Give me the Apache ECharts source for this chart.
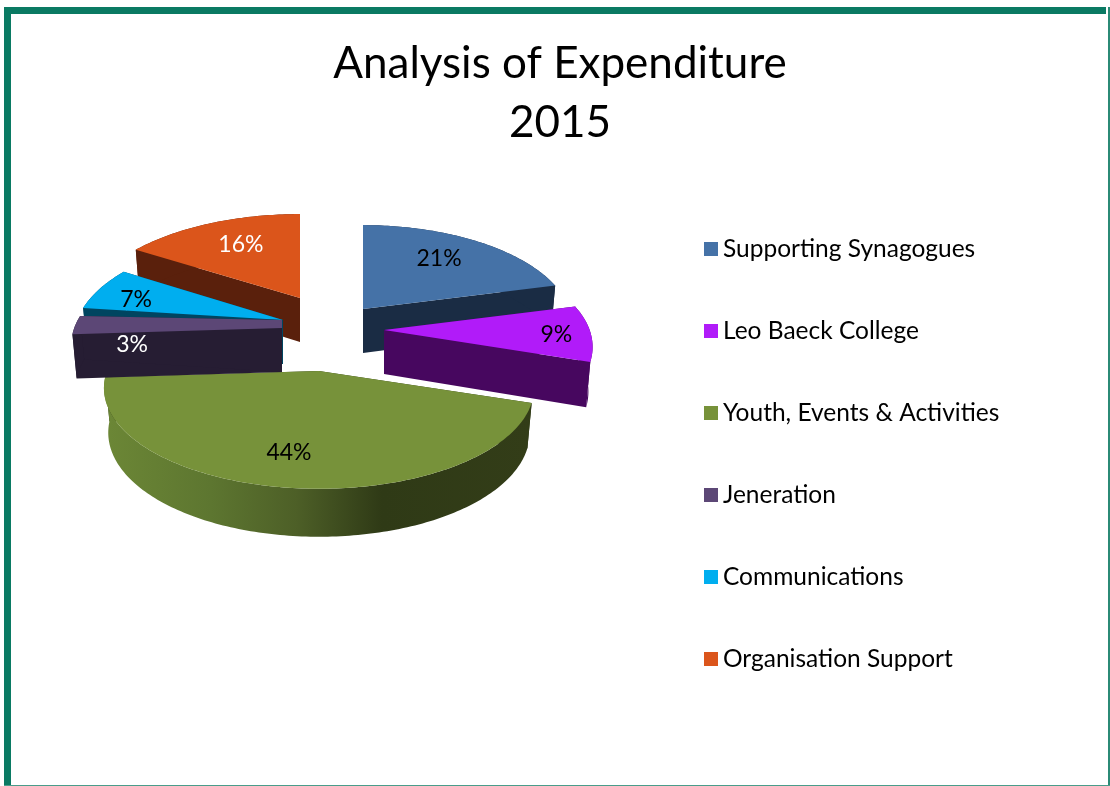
<!DOCTYPE html>
<html lang="en">
<head>
    <meta charset="UTF-8">
    <title>Analysis of Expenditure 2015</title>
    <script src="https://cdn.jsdelivr.net/npm/echarts@6/dist/echarts.min.js"></script>
    <style>
        html, body { margin: 0; padding: 0; background: #fff; }
    </style>
</head>
<body>
<div id="main" style="width: 1110px;height:786px;"></div>
<script type="text/javascript">
    // data, percent of expenditure
    var categories = ['Supporting Synagogues', 'Leo Baeck College', 'Youth, Events & Activities', 'Jeneration', 'Communications', 'Organisation Support'];
    var values = [21, 9, 44, 3, 7, 16];

    // colours per category
    var topColors = ['#4572a7', '#b11bf9', '#77923a', '#5c4776', '#00aeef', '#db551b'];
    var wallColors = ['#1a2c44', '#47075f', '#2c3914', '#261d33', '#004560', '#5a200c'];
    var labelColors = ['#000', '#000', '#000', '#fff', '#000', '#fff'];

    // explode offset of each slice from the pie centre, px
    var explodeX = [44, 65, 0, -37, -36, -19];
    var explodeY = [-62, -41, 0, -43, -51, -73];
    var sliceScaleX = [0.975, 0.97, 1, 0.98, 0.97, 1];
    // where the % label sits along the middle of the slice
    var labelRadius = [0.68, 0.81, 0.7, 0.71, 0.78, 0.68];
    var labelShiftX = [-5, 0, -9, 0, 2, 4];
    var labelShiftY = [-2, 2, 5, 19, 4, 0];
    // painter order, back to front
    var sliceZ = [2, 3, 5, 6, 4, 1];

    var cx = 319, cy = 371;      // pie centre
    var rx = 212, ry = 98;       // radii at the centre depth
    var persp = 0.168;           // front of the pie is bigger than the back
    var wallH = 44;              // thickness

    function project(deg, r, sx) {
        var a = deg * Math.PI / 180;
        var wx = r * Math.sin(a), wy = -r * Math.cos(a);
        var s = 1 / (1 - persp * wy);
        return {x: rx * sx * wx * s, y: ry * wy * s, wy: wy};
    }
    function lower(p) {
        return {x: p.x * 0.98, y: p.y + wallH + 4 * p.wy};
    }

    var starts = [];
    var total = 0;
    values.forEach(function (v) { starts.push(total); total += v; });

    function renderSlice(params, api) {
        var idx = params.seriesIndex;
        var from = api.value(0) / total * 360;
        var to = (api.value(0) + api.value(1)) / total * 360;
        var ox = cx + explodeX[idx], oy = cy + explodeY[idx];
        var arc = [];
        for (var d = from; d < to; d += 1) arc.push(project(d, 1, sliceScaleX[idx]));
        arc.push(project(to, 1, sliceScaleX[idx]));
        var centre = {x: 0, y: 0, wy: 0};
        // the thin Jeneration slice is cut off short of its point in the original
        var centreEnd = idx === 3 ? {x: 0, y: -8, wy: 0} : centre;

        function pts(list) {
            return list.map(function (p) { return [ox + p.x, oy + p.y]; });
        }
        var wallStyle = {fill: wallColors[idx]};
        var arcStyle = wallStyle;
        if (idx === 2) {
            arcStyle = {
                fill: new echarts.graphic.LinearGradient(0, 0, 1, 0, [
                    {offset: 0, color: '#6c8736'},
                    {offset: 0.25, color: '#5d7630'},
                    {offset: 0.45, color: '#4d5f27'},
                    {offset: 0.65, color: '#2f3a16'},
                    {offset: 1, color: '#333d18'}
                ])
            };
        }
        var first = arc[0], last = arc[arc.length - 1];
        var arcWall = arc.concat(arc.slice().reverse().map(lower));
        var children = [
            {type: 'polygon', shape: {points: pts([centre, first, lower(first), lower(centre)])}, style: wallStyle},
            {type: 'polygon', shape: {points: pts([centreEnd, last, lower(last), lower(centre)])}, style: wallStyle},
            {type: 'polygon', shape: {points: pts(arcWall)}, style: arcStyle},
            {type: 'polygon', shape: {points: pts([centre].concat(arc, [centreEnd]))}, style: {fill: topColors[idx]}}
        ];
        var mid = project((from + to) / 2, labelRadius[idx], 1);
        children.push({
            type: 'text',
            z2: 10,
            style: {
                x: ox + mid.x + labelShiftX[idx],
                y: oy + mid.y + labelShiftY[idx],
                text: api.value(1) + '%',
                fill: labelColors[idx],
                font: '23px Lato, sans-serif',
                align: 'center',
                verticalAlign: 'middle'
            }
        });
        return {type: 'group', children: children};
    }

    var myChart = echarts.init(document.getElementById('main'));
    var option = {
        animation: false,
        backgroundColor: '#fff',
        title: {
            text: 'Analysis of Expenditure\n2015',
            left: 555,
            top: 29,
            textAlign: 'center',
            textStyle: {
                fontFamily: 'Lato, sans-serif',
                fontWeight: 'normal',
                fontSize: 44,
                lineHeight: 59,
                color: '#000'
            }
        },
        legend: {
            data: categories,
            orient: 'vertical',
            icon: 'rect',
            left: 699,
            top: 230,
            itemWidth: 14,
            itemHeight: 14,
            itemGap: 54,
            textStyle: {
                fontFamily: 'Lato, sans-serif',
                fontSize: 24.5,
                lineHeight: 28,
                color: '#000'
            }
        },
        // the teal frame of the slide
        graphic: [
            {type: 'rect', shape: {x: 4, y: 7, width: 1102, height: 7}, style: {fill: '#0a7a63'}},
            {type: 'rect', shape: {x: 4, y: 7, width: 7, height: 779}, style: {fill: '#0a7a63'}},
            {type: 'rect', shape: {x: 1108, y: 7, width: 2, height: 779}, style: {fill: '#2b8a76'}},
            {type: 'rect', shape: {x: 4, y: 785, width: 1106, height: 1}, style: {fill: '#4a9c8a'}}
        ],
        series: categories.map(function (name, i) {
            return {
                name: name,
                type: 'custom',
                z: sliceZ[i],
                coordinateSystem: 'none',
                itemStyle: {color: topColors[i]},
                renderItem: renderSlice,
                data: [[starts[i], values[i]]]
            };
        })
    };
    myChart.setOption(option);
</script>
</body>
</html>
